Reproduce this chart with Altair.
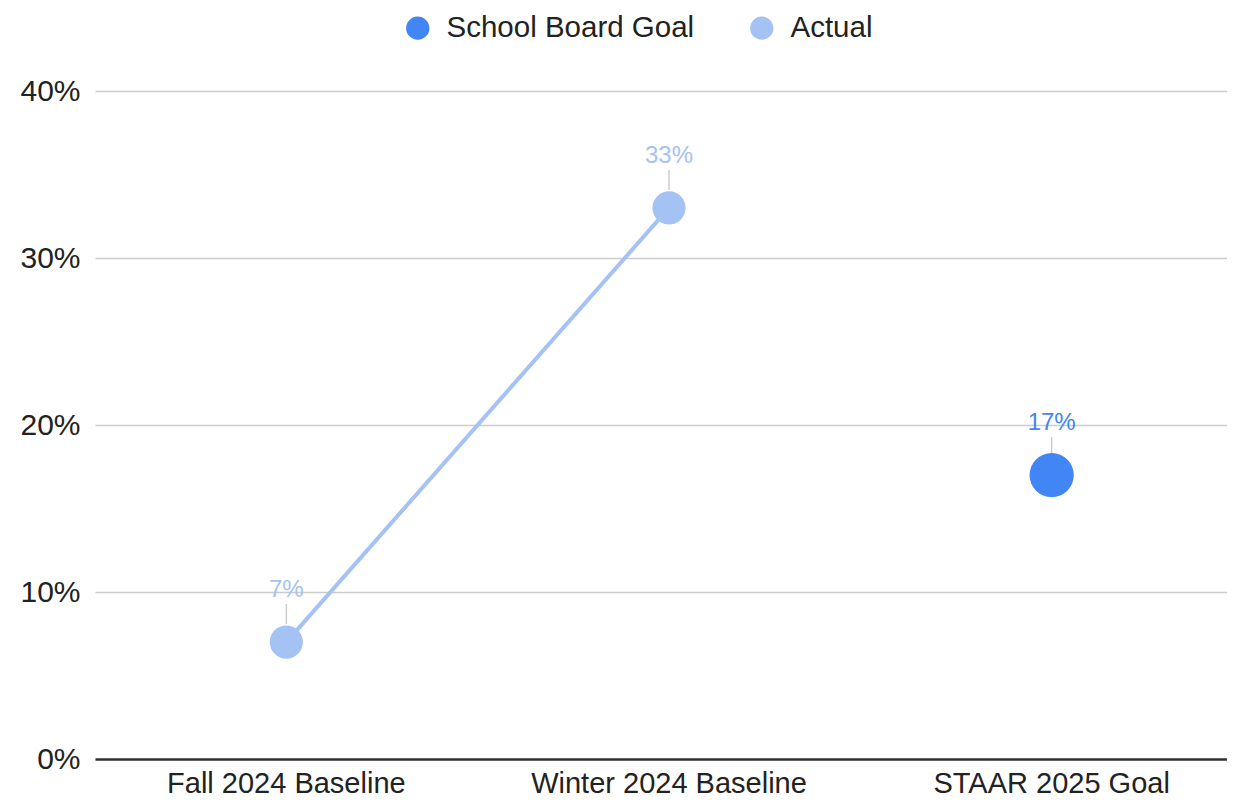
import altair as alt
import pandas as pd

categories = ["Fall 2024 Baseline", "Winter 2024 Baseline", "STAAR 2025 Goal"]
actual = [0.07, 0.33, None]
goal = [None, None, 0.17]
series_names = ["School Board Goal", "Actual"]
series_colors = ["#4285F4", "#A4C2F4"]
y_ticks = [0, 0.1, 0.2, 0.3, 0.4]

rows = []
for c, a, g in zip(categories, actual, goal):
    if a is not None:
        rows.append({"cat": c, "series": "Actual", "value": a})
    if g is not None:
        rows.append({"cat": c, "series": "School Board Goal", "value": g})
df = pd.DataFrame(rows)

FONT = "Liberation Sans"

x = alt.X("cat:N", sort=categories, title=None,
          scale=alt.Scale(type="band", paddingInner=0, paddingOuter=0, range=[0, 1148]),
          axis=alt.Axis(labelAngle=0, ticks=False, domain=True, domainColor="#333333",
                        domainWidth=2.5, labelPadding=10, labelFontSize=29, labelLimit=0,
                        labelFont=FONT, labelColor="#222222", grid=False))
y = alt.Y("value:Q", title=None,
          scale=alt.Scale(domain=[0, 0.4], nice=False, zero=True),
          axis=alt.Axis(values=y_ticks, format=".0%", ticks=False, domain=False,
                        labelPadding=15, labelFontSize=30, labelFont=FONT,
                        labelColor="#222222", gridColor="#cccccc", gridWidth=1.5))
color = alt.Color("series:N",
                  scale=alt.Scale(domain=series_names, range=series_colors),
                  legend=alt.Legend(title=None, orient="none", direction="horizontal",
                                    legendX=308, legendY=-78, symbolType="circle",
                                    symbolSize=540, symbolStrokeWidth=0, symbolOpacity=1,
                                    labelFontSize=29.5, labelFont=FONT, labelColor="#222222",
                                    labelLimit=0, labelOffset=14, columnPadding=52))

base = alt.Chart(df)

line = base.transform_filter(alt.datum.series == "Actual").mark_line(
    strokeWidth=4, color="#A4C2F4").encode(x=x, y=y)

leader = base.mark_rule(color="#cccccc", strokeWidth=1.5, yOffset=-38, y2Offset=-18).encode(
    x=x, y=y, y2="value:Q")

points = base.transform_calculate(
    sz="datum.series == 'Actual' ? 'small' : 'big'"
).mark_circle(opacity=1).encode(
    x=x, y=y, color=color,
    size=alt.Size("sz:N", scale=alt.Scale(domain=["big", "small"], range=[1960, 1100]),
                  legend=None))

labels = base.mark_text(dy=-52, fontSize=24, font=FONT, baseline="middle").encode(
    x=x, y=y, text=alt.Text("value:Q", format=".0%"),
    color=alt.Color("series:N", scale=alt.Scale(domain=series_names, range=series_colors),
                    legend=None))

chart = alt.layer(line, leader, points, labels).properties(
    width=1132, height=668,
    autosize=alt.AutoSizeParams(type="none"),
    padding={"left": 87, "top": 83, "right": 0, "bottom": 44},
).configure_view(stroke=None)

chart.save("out.html", embed_options={"renderer": "svg", "actions": False})
